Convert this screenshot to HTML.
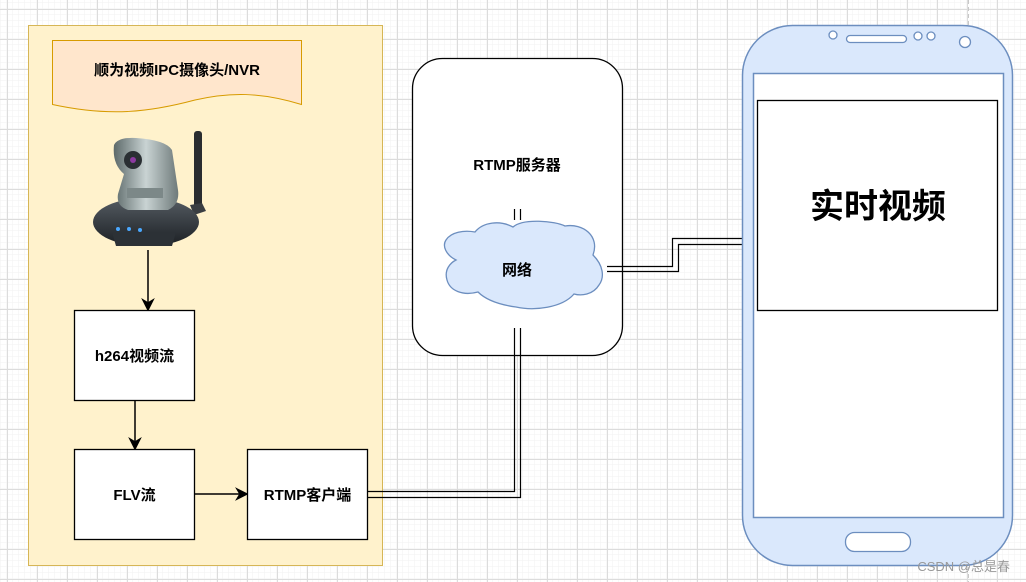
<!DOCTYPE html>
<html><head><meta charset="utf-8"><style>
html,body{margin:0;padding:0;background:#fff}
svg{display:block}
text{font-family:"Liberation Sans","Noto Sans CJK SC",sans-serif;font-weight:bold}
</style></head><body>
<svg width="1026" height="582" viewBox="0 0 1026 582" xmlns="http://www.w3.org/2000/svg">
<defs>
<pattern id="minor" x="7" y="9" width="6" height="6" patternUnits="userSpaceOnUse"><path d="M6 0V6M0 6H6" stroke="#f2f2f2" stroke-width="1" fill="none"/></pattern>
<pattern id="major" x="7" y="9" width="30" height="30" patternUnits="userSpaceOnUse"><path d="M0.5 0V30M0 0.5H30" stroke="#dcdcdc" stroke-width="1" fill="none"/></pattern>
<linearGradient id="cam" x1="0" x2="1"><stop offset="0" stop-color="#5d6a6a"/><stop offset="0.5" stop-color="#c9d3d3"/><stop offset="1" stop-color="#6e7a7a"/></linearGradient>
<linearGradient id="base" x1="0" y1="0" x2="0" y2="1"><stop offset="0" stop-color="#555c63"/><stop offset="1" stop-color="#1c2024"/></linearGradient>
</defs>
<rect width="1026" height="582" fill="url(#minor)"/>
<rect width="1026" height="582" fill="url(#major)"/>
<line x1="968.5" y1="0" x2="968.5" y2="582" stroke="#c8c8c8" stroke-dasharray="4 3"/>

<!-- left container -->
<rect x="28.5" y="25.5" width="354" height="540" fill="#fff2cc" stroke="#d6b656"/>
<path d="M52.5 40.5H301.5V104.5C260 92 230 92 195 100C150 112 110 117 52.5 104.5Z" fill="#ffe6cc" stroke="#d79b00"/>
<text x="177" y="75" font-size="15" text-anchor="middle">顺为视频IPC摄像头/NVR</text>

<!-- camera -->
<rect x="194" y="131" width="8" height="80" rx="3" fill="#2a2d30"/>
<path d="M190 205l12 -2 4 8 -12 4z" fill="#3a3e42"/>
<ellipse cx="146" cy="222" rx="53" ry="24" fill="url(#base)"/>
<path d="M112 232h64l-4 14h-56z" fill="#2c3136"/>
<circle cx="118" cy="229" r="2" fill="#4aa8ff"/><circle cx="129" cy="229" r="2" fill="#4aa8ff"/><circle cx="140" cy="230" r="2" fill="#4aa8ff"/>
<path d="M114 145q4 -8 22 -7q30 2 36 12l6 40q2 14 -10 20h-40q-12 -4 -10 -16l6 -20q-12 -10 -10 -29z" fill="url(#cam)"/>
<rect x="127" y="188" width="36" height="10" fill="#7c8888"/>
<circle cx="133" cy="160" r="9" fill="#2a2f33"/><circle cx="133" cy="160" r="3" fill="#8c3aa0"/>

<!-- arrows -->
<g stroke="#000" stroke-width="1.5" fill="#000">
<line x1="148" y1="250" x2="148" y2="302"/><path d="M143 300l5 10 5-10-5 3z"/>
<line x1="135" y1="400" x2="135" y2="441"/><path d="M130 439l5 10 5-10-5 3z"/>
<line x1="195" y1="494" x2="239" y2="494"/><path d="M237 489l10 5-10 5 3-5z"/>
</g>
<rect x="74.5" y="310.5" width="120" height="90" fill="#fff" stroke="#000" stroke-width="1.3"/>
<text x="134.5" y="361" font-size="15" text-anchor="middle">h264视频流</text>
<rect x="74.5" y="449.5" width="120" height="90" fill="#fff" stroke="#000" stroke-width="1.3"/>
<text x="134.5" y="500" font-size="15" text-anchor="middle">FLV流</text>
<rect x="247.5" y="449.5" width="120" height="90" fill="#fff" stroke="#000" stroke-width="1.3"/>
<text x="307.5" y="500" font-size="15" text-anchor="middle">RTMP客户端</text>

<!-- server -->
<rect x="412.5" y="58.5" width="210" height="297" rx="30" fill="#fff" stroke="#000" stroke-width="1.3"/>
<text x="517" y="170" font-size="15" text-anchor="middle">RTMP服务器</text>
<path d="M475 232c8-10 25-12 38-5c10-9 42-6 52-1c18-3 35 10 28 29c10 10 12 22 6 30c-6 10-18 11-25 9c-12 14-40 17-58 13c-22-3-32-9-38-15c-15 4-28-1-31-12c-3-10 3-17 9-20c-10-5-14-14-10-20c5-8 18-10 29-8z" fill="#dae8fc" stroke="#6c8ebf" stroke-width="1.3"/>
<text x="517" y="275" font-size="15" text-anchor="middle">网络</text>

<g stroke="#000" stroke-width="1.2" fill="none">
<path d="M368 491.5H514.5V328"/>
<path d="M368 497.5H520.5V328"/>
<path d="M514.5 209V220M520.5 209V220"/>
<path d="M607 266.5H672.5V238.5H742"/>
<path d="M607 271.5H678.5V244.5H742"/>
</g>

<!-- phone -->
<rect x="742.5" y="25.5" width="270" height="540" rx="50" fill="#dae8fc" stroke="#6c8ebf" stroke-width="1.5"/>
<rect x="753.5" y="73.5" width="250" height="444" fill="#fff" stroke="#6c8ebf" stroke-width="1.5"/>
<circle cx="833" cy="35" r="4" fill="#fff" stroke="#6c8ebf" stroke-width="1.3"/>
<rect x="846.5" y="35.5" width="60" height="7" rx="3.5" fill="#fff" stroke="#6c8ebf" stroke-width="1.3"/>
<circle cx="918" cy="36" r="4" fill="#fff" stroke="#6c8ebf" stroke-width="1.3"/>
<circle cx="931" cy="36" r="4" fill="#fff" stroke="#6c8ebf" stroke-width="1.3"/>
<circle cx="965" cy="42" r="5.5" fill="#fff" stroke="#6c8ebf" stroke-width="1.3"/>
<rect x="845.5" y="532.5" width="65" height="19" rx="9" fill="#fff" stroke="#6c8ebf" stroke-width="1.3"/>
<rect x="757.5" y="100.5" width="240" height="210" fill="#fff" stroke="#000" stroke-width="1.3"/>
<text x="878" y="218" font-size="34" text-anchor="middle">实时视频</text>
<text x="1010" y="571" font-size="13" font-weight="normal" style="font-weight:normal" fill="#999" text-anchor="end">CSDN @总是春</text>
</svg>
</body></html>
